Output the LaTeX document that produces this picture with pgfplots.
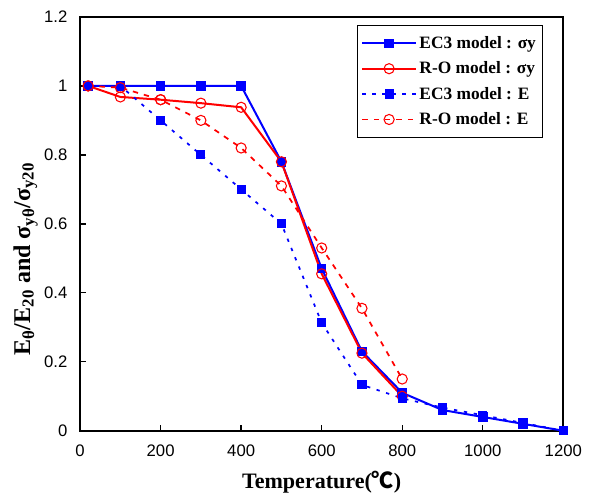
\documentclass[border=0pt]{standalone}
\usepackage{fontspec}
\setmainfont{Liberation Sans}
\newfontfamily\tnr{Liberation Serif}
\newfontfamily\cjk{Noto Sans CJK SC}
\usepackage{pgfplots}
\pgfplotsset{compat=1.18}
\newcommand{\sub}[1]{\textsubscript{#1}}
\begin{document}
\begin{tikzpicture}
\begin{axis}[
    scale only axis,
    width=362pt, height=310pt,
    xmin=0, xmax=1200, ymin=0, ymax=1.2,
    xtick={0,200,...,1200},
    ytick={0,0.2,...,1.2},
    /pgf/number format/assume math mode=true,
    /pgf/number format/1000 sep={},
    tick label style={font=\fontsize{12.5}{14}\selectfont},
    xticklabel style={yshift=-7pt},
    yticklabel style={xshift=-6pt},
    tick align=inside, tick pos=left,
    major tick length=4.5pt,
    axis line style={line width=1.4pt},
    every tick/.style={black, line width=1pt},
    xlabel={\tnr\bfseries Temperature({\cjk ℃})},
    ylabel={\tnr\bfseries E\sub{θ}/E\sub{20} and σ\sub{yθ}/σ\sub{y20}},
    xlabel style={font=\fontsize{16.5}{18}\selectfont, yshift=-4pt},
    ylabel style={font=\fontsize{18}{20}\selectfont, at={(ticklabel cs:0.415)}, yshift=-2pt},
    legend style={at={(0.958,0.98)}, anchor=north east, draw=black, line width=0.6pt,
                  font=\tnr\bfseries\fontsize{13}{15}\selectfont, row sep=4.5pt,
                  inner xsep=3pt, inner ysep=6pt},
    legend cell align=left,
    legend image code/.code={
        \draw[mark repeat=2, mark phase=2] plot coordinates {(0pt,0pt) (20pt,0pt) (40pt,0pt)};},
]
\addplot[blue, line width=1.5pt, mark=square*, mark size=2.8pt, mark options={solid}] coordinates {
    (20,1) (100,1) (200,1) (300,1) (400,1) (500,0.78) (600,0.47) (700,0.23)
    (800,0.11) (900,0.06) (1000,0.04) (1100,0.02) (1200,0)};
\addplot[red, line width=1.5pt, mark=o, mark size=3.8pt, mark options={solid, line width=0.8pt}] coordinates {
    (20,1) (100,0.968) (200,0.96) (300,0.95) (400,0.938) (500,0.78) (600,0.455)
    (700,0.225) (800,0.10)};
\addplot[blue, line width=1.3pt, dash pattern=on 2.5pt off 5pt, mark=square*, mark size=2.8pt, mark options={solid}] coordinates {
    (20,1) (100,1) (200,0.9) (300,0.8) (400,0.7) (500,0.6) (600,0.313) (700,0.133)
    (800,0.094) (900,0.067) (1000,0.045) (1100,0.0225) (1200,0)};
\addplot[red, line width=1.3pt, dash pattern=on 4pt off 4.5pt, mark=o, mark size=3.8pt, mark options={solid, line width=0.8pt}] coordinates {
    (20,1) (100,0.995) (200,0.96) (300,0.9) (400,0.82) (500,0.71) (600,0.53)
    (700,0.355) (800,0.15)};
\legend{EC3 model : σy, R-O model : σy, EC3 model : E, R-O model : E}
\end{axis}
\pgfresetboundingbox
\useasboundingbox ([xshift=-60pt,yshift=-48pt]current axis.south west)
    rectangle ([xshift=23pt,yshift=12.7pt]current axis.north east);
\end{tikzpicture}
\end{document}
